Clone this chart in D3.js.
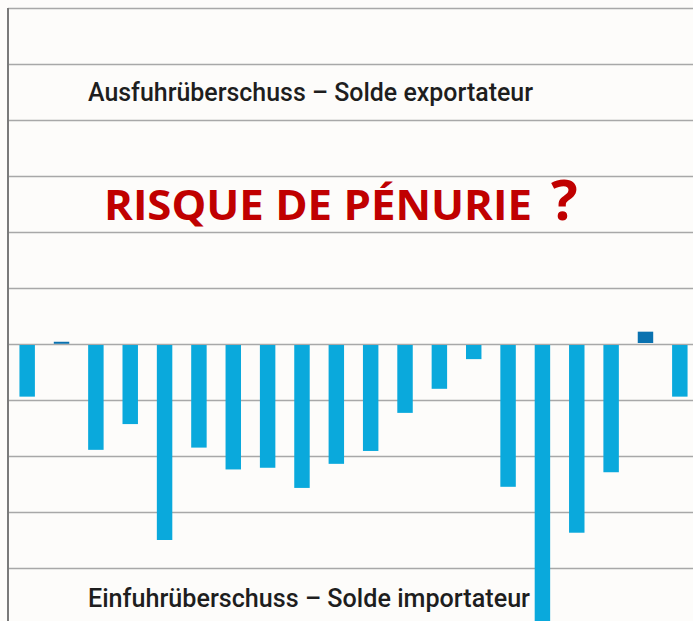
<!DOCTYPE html>
<html>
<head>
<meta charset="utf-8">
<script src="https://cdn.jsdelivr.net/npm/d3@7"></script>
<style>
  body { margin: 0; background: #fdfcfa; }
  svg { display: block; }
</style>
</head>
<body>
<script>
'use strict';

const width = 693;
const height = 621;

// hydrological years (not labelled in the picture)
const years = ["2001", "2002", "2003", "2004", "2005", "2006", "2007", "2008", "2009", "2010",
               "2011", "2012", "2013", "2014", "2015", "2016", "2017", "2018", "2019", "2020"];
// winter balance, in grid steps (positive = export surplus)
const balance = [-0.94, 0.04, -1.89, -1.43, -3.5, -1.85, -2.24, -2.21, -2.57, -2.14,
                 -1.91, -1.23, -0.80, -0.27, -2.55, -5.0, -3.37, -2.29, 0.22, -0.94];
const gridTicks = [-5, -4, -3, -2, -1, 0, 1, 2, 3, 4, 5, 6];

const labelTop = "Ausfuhrüberschuss – Solde exportateur";
const labelBottom = "Einfuhrüberschuss – Solde importateur";
const title = "RISQUE DE PÉNURIE";

const svg = d3.select("body")
    .append("svg")
    .attr("width", width)
    .attr("height", height);

svg.append("rect")
    .attr("width", width)
    .attr("height", height)
    .attr("fill", "#fdfcfa");

let x = d3.scaleBand()
    .domain(years)
    .range([10, 697])
    .paddingInner(0.55)
    .paddingOuter(0.275);

let y = d3.scaleLinear()
    .domain([-5, 6])
    .range([624, 8]);

// grid
svg.append("g")
    .attr("transform", "translate(8,0)")
    .call(d3.axisRight(y)
        .tickValues(gridTicks)
        .tickSize(width)
        .tickFormat(""))
    .call(g => g.select(".domain").remove())
    .call(g => g.selectAll("line")
        .attr("stroke", "#a8a8a8")
        .attr("stroke-width", 1.6));

// left border
svg.append("line")
    .attr("x1", 8).attr("x2", 8)
    .attr("y1", y(6)).attr("y2", height)
    .attr("stroke", "#7a7a7a")
    .attr("stroke-width", 2);

// bars
svg.append("g")
    .selectAll("rect")
    .data(balance)
    .enter()
    .append("rect")
    .attr("x", (d, i) => x(years[i]))
    .attr("width", x.bandwidth())
    .attr("y", d => d > 0 ? y(d) : y(0) + 1)
    .attr("height", d => Math.max(2, Math.abs(y(d) - y(0)) - 1))
    .attr("fill", d => d > 0 ? "#0a72b0" : "#0aa9dc");

// labels
const labelFont = "'Roboto', 'Liberation Sans', sans-serif";

svg.append("text")
    .attr("x", 88)
    .attr("y", 101)
    .attr("font-family", labelFont)
    .attr("font-weight", 500)
    .attr("font-size", 26)
    .attr("fill", "#1e1e1e")
    .attr("textLength", 445)
    .attr("lengthAdjust", "spacingAndGlyphs")
    .text(labelTop);

svg.append("text")
    .attr("x", 88)
    .attr("y", 607)
    .attr("font-family", labelFont)
    .attr("font-weight", 500)
    .attr("font-size", 26)
    .attr("fill", "#1e1e1e")
    .attr("textLength", 442)
    .attr("lengthAdjust", "spacingAndGlyphs")
    .text(labelBottom);

svg.append("text")
    .attr("x", 104)
    .attr("y", 220)
    .attr("font-family", "'Open Sans', 'Noto Sans', sans-serif")
    .attr("font-weight", "bold")
    .attr("font-size", 41)
    .attr("fill", "#c00000")
    .attr("textLength", 428)
    .attr("lengthAdjust", "spacingAndGlyphs")
    .text(title);

svg.append("text")
    .attr("x", 551)
    .attr("y", 220)
    .attr("font-family", "'Open Sans', 'Noto Sans', sans-serif")
    .attr("font-weight", "bold")
    .attr("font-size", 56)
    .attr("fill", "#c00000")
    .text("?");
</script>
</body>
</html>
